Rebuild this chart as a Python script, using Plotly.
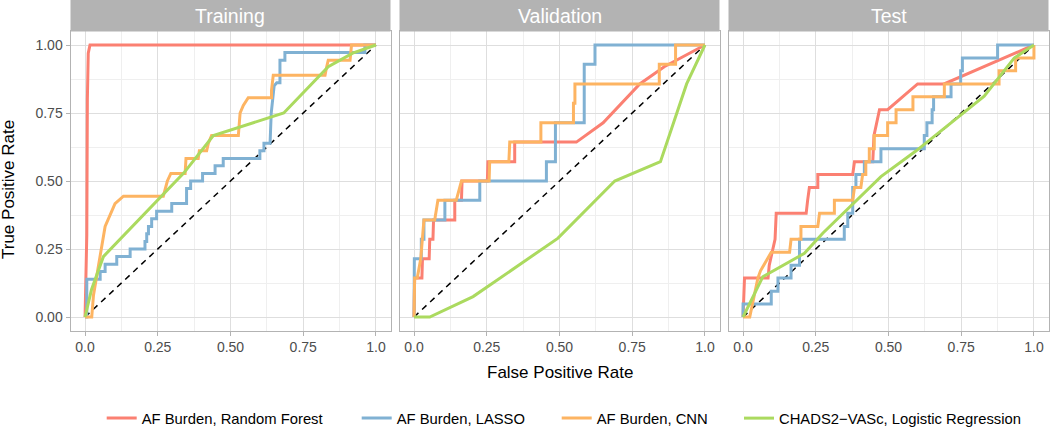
import plotly.graph_objects as go

# ---------------- data ----------------
PANELS = ["Training", "Validation", "Test"]
SERIES = ["AF Burden, Random Forest", "AF Burden, LASSO", "AF Burden, CNN",
          "CHADS2\u2212VASc, Logistic Regression"]
COLORS = ["#FB8072", "#80B1D3", "#FDB462", "#ABDA5F"]

X_TICKS = [0, 0.25, 0.5, 0.75, 1.0]
X_TICK_TEXT = ["0.0", "0.25", "0.50", "0.75", "1.0"]
Y_TICKS = [0, 0.25, 0.5, 0.75, 1.0]
Y_TICK_TEXT = ["0.00", "0.25", "0.50", "0.75", "1.00"]
MINOR_TICKS = [0.125, 0.375, 0.625, 0.875]

# (FPR, TPR) pairs for each ROC curve
TRAIN_RF = [(0, 0), (0.006, 0.3), (0.008, 0.8), (0.011, 0.97), (0.017, 1.0), (1.0, 1.0)]
TRAIN_LASSO = [(0, 0), (0.006, 0), (0.006, 0.139), (0.052, 0.139), (0.052, 0.167), (0.069, 0.167),
               (0.069, 0.194), (0.109, 0.194), (0.109, 0.222), (0.155, 0.222), (0.155, 0.25),
               (0.206, 0.25), (0.206, 0.278), (0.212, 0.278), (0.212, 0.306), (0.218, 0.306),
               (0.218, 0.333), (0.229, 0.333), (0.229, 0.361), (0.246, 0.361), (0.246, 0.389),
               (0.298, 0.389), (0.298, 0.417), (0.349, 0.417), (0.349, 0.472), (0.363, 0.472),
               (0.363, 0.5), (0.404, 0.5), (0.404, 0.528), (0.447, 0.528), (0.447, 0.556),
               (0.475, 0.556), (0.475, 0.583), (0.601, 0.583), (0.601, 0.611), (0.615, 0.611),
               (0.615, 0.639), (0.636, 0.639), (0.64, 0.75), (0.65, 0.85), (0.659, 0.861),
               (0.67, 0.861), (0.67, 0.944), (0.687, 0.944), (0.687, 0.972), (0.962, 0.972),
               (0.962, 1.0), (1.0, 1.0)]
TRAIN_CNN = [(0, 0), (0.023, 0), (0.029, 0.08), (0.069, 0.333), (0.103, 0.417), (0.132, 0.444),
             (0.269, 0.444), (0.283, 0.5), (0.295, 0.528), (0.344, 0.528), (0.347, 0.583),
             (0.389, 0.583), (0.393, 0.611), (0.418, 0.611), (0.424, 0.639), (0.435, 0.667),
             (0.527, 0.667), (0.533, 0.75), (0.544, 0.778), (0.561, 0.806), (0.641, 0.806),
             (0.641, 0.833), (0.647, 0.889), (0.825, 0.889), (0.83, 0.917), (0.836, 0.944),
             (0.911, 0.944), (0.916, 1.0), (1.0, 1.0)]
TRAIN_CHADS = [(0, 0), (0.022, 0.1), (0.063, 0.222), (0.2, 0.375), (0.34, 0.53), (0.441, 0.667),
               (0.683, 0.75), (0.836, 0.92), (0.92, 0.97), (1.0, 1.0)]

VAL_RF = [(0, 0), (0.002, 0.143), (0.027, 0.143), (0.029, 0.214), (0.052, 0.214), (0.054, 0.286),
          (0.065, 0.286), (0.067, 0.357), (0.14, 0.357), (0.14, 0.429), (0.163, 0.429),
          (0.165, 0.5), (0.252, 0.5), (0.254, 0.571), (0.346, 0.571), (0.346, 0.643),
          (0.558, 0.643), (0.65, 0.714), (0.776, 0.857), (0.86, 0.92), (1.0, 1.0)]
VAL_LASSO = [(0, 0), (0.001, 0.214), (0.025, 0.214), (0.025, 0.286), (0.034, 0.286),
             (0.034, 0.357), (0.106, 0.357), (0.106, 0.429), (0.226, 0.429), (0.226, 0.5),
             (0.455, 0.5), (0.455, 0.571), (0.486, 0.571), (0.486, 0.714), (0.585, 0.714),
             (0.585, 0.929), (0.622, 0.929), (0.622, 1.0), (1.0, 1.0)]
VAL_CNN = [(0, 0), (0.002, 0.143), (0.011, 0.143), (0.023, 0.214), (0.034, 0.357), (0.071, 0.357),
           (0.082, 0.429), (0.145, 0.429), (0.163, 0.5), (0.258, 0.5), (0.26, 0.571),
           (0.326, 0.571), (0.329, 0.643), (0.436, 0.643), (0.436, 0.714), (0.548, 0.714),
           (0.548, 0.786), (0.553, 0.786), (0.553, 0.857), (0.843, 0.857), (0.843, 0.929),
           (0.899, 0.929), (0.899, 1.0), (1.0, 1.0)]
VAL_CHADS = [(0, 0), (0.054, 0), (0.203, 0.075), (0.495, 0.29), (0.69, 0.5), (0.847, 0.571),
             (0.937, 0.857), (1.0, 1.0)]

TEST_RF = [(0, 0), (0.002, 0.095), (0.005, 0.143), (0.086, 0.143), (0.09, 0.19), (0.1, 0.238),
           (0.11, 0.286), (0.114, 0.381), (0.217, 0.381), (0.222, 0.429), (0.228, 0.476),
           (0.257, 0.476), (0.257, 0.524), (0.377, 0.524), (0.383, 0.571), (0.446, 0.571),
           (0.45, 0.667), (0.469, 0.762), (0.497, 0.762), (0.6, 0.857), (0.691, 0.857), (1.0, 1.0)]
TEST_LASSO = [(0, 0), (0, 0.048), (0.097, 0.048), (0.097, 0.095), (0.12, 0.095), (0.12, 0.143),
              (0.165, 0.143), (0.165, 0.19), (0.194, 0.19), (0.194, 0.286), (0.348, 0.286),
              (0.348, 0.333), (0.36, 0.333), (0.36, 0.381), (0.377, 0.381), (0.377, 0.476),
              (0.388, 0.476), (0.388, 0.524), (0.417, 0.524), (0.417, 0.571), (0.474, 0.571),
              (0.474, 0.619), (0.623, 0.619), (0.623, 0.667), (0.632, 0.667), (0.632, 0.714),
              (0.65, 0.714), (0.65, 0.762), (0.655, 0.762), (0.655, 0.81), (0.715, 0.81),
              (0.715, 0.857), (0.748, 0.857), (0.748, 0.905), (0.754, 0.905), (0.754, 0.952),
              (0.875, 0.952), (0.875, 1.0), (1.0, 1.0)]
TEST_CNN = [(0, 0), (0.023, 0), (0.051, 0.143), (0.06, 0.17), (0.097, 0.238), (0.16, 0.238),
            (0.165, 0.286), (0.199, 0.286), (0.199, 0.333), (0.257, 0.333), (0.263, 0.381),
            (0.314, 0.381), (0.314, 0.429), (0.377, 0.429), (0.383, 0.476), (0.405, 0.476),
            (0.411, 0.524), (0.422, 0.524), (0.422, 0.571), (0.434, 0.571), (0.434, 0.619),
            (0.451, 0.619), (0.451, 0.667), (0.497, 0.667), (0.497, 0.714), (0.526, 0.714),
            (0.526, 0.762), (0.584, 0.762), (0.584, 0.81), (0.692, 0.81), (0.692, 0.857),
            (0.88, 0.857), (0.88, 0.905), (0.937, 0.905), (0.937, 0.952), (1.0, 0.952), (1.0, 1.0)]
TEST_CHADS = [(0, 0), (0.068, 0.148), (0.211, 0.234), (0.274, 0.308), (0.474, 0.516),
              (0.594, 0.61), (0.829, 0.812), (0.932, 0.952), (1.0, 1.0)]

DIAGONAL = [(0, 0), (1, 1)]

CURVES = [
    [TRAIN_RF, TRAIN_LASSO, TRAIN_CNN, TRAIN_CHADS],
    [VAL_RF, VAL_LASSO, VAL_CNN, VAL_CHADS],
    [TEST_RF, TEST_LASSO, TEST_CNN, TEST_CHADS],
]

# ---------------- layout geometry (pixels) ----------------
W, H = 1050, 427
FONT = "Liberation Sans, Arial, Helvetica, sans-serif"
PANEL_X = [(70.5, 390.5), (399.5, 719.5), (728.5, 1048.5)]
PANEL_Y = (31.4, 330.6)   # top, bottom
STRIP_Y = (0.0, 31.4)


def px(x):
    return x / W


def py(y):
    return 1 - y / H


fig = go.Figure()

for p, panel_curves in enumerate(CURVES):
    xa = "x" if p == 0 else f"x{p + 1}"
    ya = "y" if p == 0 else f"y{p + 1}"
    fig.add_trace(go.Scatter(
        x=[d[0] for d in DIAGONAL], y=[d[1] for d in DIAGONAL], mode="lines",
        line=dict(color="black", width=1.5, dash="6px,5px"),
        xaxis=xa, yaxis=ya, showlegend=False, hoverinfo="skip"))
    for s, pts in enumerate(panel_curves):
        tr = dict(
            x=[d[0] for d in pts], y=[d[1] for d in pts], mode="lines",
            line=dict(color=COLORS[s], width=3),
            name=SERIES[s], legendgroup=SERIES[s],
            xaxis=xa, yaxis=ya, showlegend=(p == 0))
        if p == 0:
            tr["legend"] = "legend" if s == 0 else f"legend{s + 1}"
        fig.add_trace(go.Scatter(**tr))

layout = dict(
    width=W, height=H, autosize=False,
    margin=dict(l=0, r=0, t=0, b=0, pad=0, autoexpand=False),
    paper_bgcolor="white", plot_bgcolor="white",
    font=dict(family=FONT),
    shapes=[], annotations=[],
)

for p in range(3):
    sfx = "" if p == 0 else str(p + 1)
    x0, x1 = PANEL_X[p]
    common = dict(
        range=[-0.05, 1.05], showgrid=True, gridcolor="#DEDEDE", gridwidth=1,
        minor=dict(tickvals=MINOR_TICKS, showgrid=True, gridcolor="#EFEFEF", gridwidth=1, ticks=""),
        showline=True, mirror=True, linecolor="#B3B3B3", linewidth=1,
        zeroline=False, tickcolor="#B3B3B3", tickwidth=1, ticklen=4, automargin=False,
        tickfont=dict(family=FONT, size=14, color="#4D4D4D"), fixedrange=True,
    )
    layout["xaxis" + sfx] = dict(
        common, domain=[px(x0), px(x1)], anchor="y" + sfx,
        tickmode="array", tickvals=X_TICKS, ticktext=X_TICK_TEXT, ticks="outside")
    layout["yaxis" + sfx] = dict(
        common, domain=[py(PANEL_Y[1]), py(PANEL_Y[0])], anchor="x" + sfx,
        tickmode="array", tickvals=Y_TICKS, ticktext=Y_TICK_TEXT,
        ticks="outside" if p == 0 else "", showticklabels=(p == 0))
    layout["shapes"].append(dict(
        type="rect", xref="paper", yref="paper", x0=px(x0), x1=px(x1),
        y0=py(STRIP_Y[1]), y1=py(STRIP_Y[0]), fillcolor="#B3B3B3", line=dict(width=0),
        layer="above"))
    layout["annotations"].append(dict(
        text=PANELS[p], xref="paper", yref="paper", x=px((x0 + x1) / 2),
        y=py((STRIP_Y[0] + STRIP_Y[1]) / 2), xanchor="center", yanchor="middle",
        showarrow=False, font=dict(family=FONT, size=19.5, color="white")))

layout["annotations"].append(dict(
    text="False Positive Rate", xref="paper", yref="paper", x=px(559.5), y=py(372.5),
    xanchor="center", yanchor="middle", showarrow=False,
    font=dict(family=FONT, size=17, color="black")))
layout["annotations"].append(dict(
    text="True Positive Rate", xref="paper", yref="paper", x=px(8), y=py(190),
    xanchor="center", yanchor="middle", showarrow=False, textangle=-90,
    font=dict(family=FONT, size=17, color="black")))

LEGEND_TEXT_X = [141.7, 396.7, 596.7, 779.0]
for s in range(4):
    key = "legend" if s == 0 else f"legend{s + 1}"
    layout[key] = dict(
        x=px(LEGEND_TEXT_X[s] - 40), y=py(418.5), xanchor="left", yanchor="middle",
        orientation="h", bgcolor="rgba(0,0,0,0)", borderwidth=0, itemwidth=30,
        font=dict(family=FONT, size=14.8, color="black"))

fig.update_layout(**layout)
fig.write_html(
    "out.html",
    config={"displayModeBar": False, "staticPlot": False},
    post_script="document.body.style.margin='0';document.body.style.padding='0';",
)
